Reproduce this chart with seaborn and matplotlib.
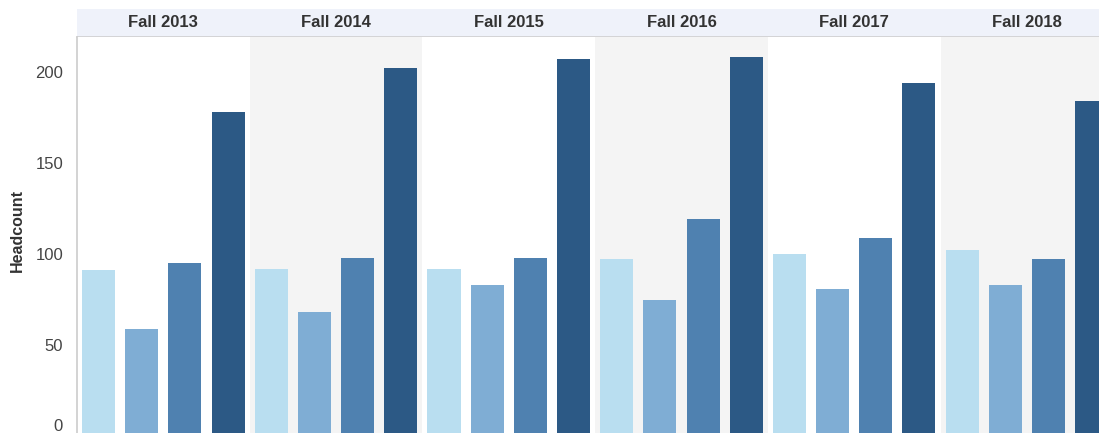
import seaborn as sns
import matplotlib.pyplot as plt
import matplotlib.patches as mpatches
import matplotlib.transforms as mtransforms
import pandas as pd

# Datos
terms = ['Fall 2013', 'Fall 2014', 'Fall 2015', 'Fall 2016', 'Fall 2017', 'Fall 2018']
levels = ['Freshman', 'Sophomore', 'Junior', 'Senior']
freshman = [91, 92, 92, 97, 100, 102]
sophomore = [59, 68, 83, 75, 81, 83]
junior = [95, 98, 98, 119, 109, 97]
senior = [178, 202, 207, 208, 194, 184]

colors = ['#b9def0', '#7fadd4', '#4f81b0', '#2c5985']

rows = []
for i, term in enumerate(terms):
    for lvl, vals in zip(levels, [freshman, sophomore, junior, senior]):
        rows.append({'Term': term, 'Level': lvl, 'Headcount': vals[i]})
df = pd.DataFrame(rows)

sns.set_style("white")
plt.rcParams['font.family'] = ['Liberation Sans', 'DejaVu Sans']

W, H = 1099, 433
fig = plt.figure(figsize=(W / 100, H / 100), dpi=100)

left = 77
panel_w = 172.7
top = 37
zero_y = 436
ymax = (zero_y - top) / 1.82

# Banda de encabezado
fig.patches.append(mpatches.Rectangle((left / W, 1 - top / H), 1 - left / W, 28 / H,
                                      transform=fig.transFigure, facecolor='#eff2fa',
                                      edgecolor='none', zorder=-5))
fig.lines.append(plt.Line2D([left / W, 1], [1 - top / H, 1 - top / H],
                            transform=fig.transFigure, color='#cfcfcf', lw=1.2, zorder=-4))

for i, term in enumerate(terms):
    ax = fig.add_axes([(left + i * panel_w) / W, 1 - zero_y / H,
                       panel_w / W, (zero_y - top) / H])
    sub = df[df['Term'] == term]
    sns.barplot(data=sub, x='Level', y='Headcount', hue='Level', order=levels,
                hue_order=levels, palette=colors, width=0.765, saturation=1,
                linewidth=0, legend=False, ax=ax)
    ax.set_xlim(-0.5, 3.5)
    ax.set_ylim(0, ymax)
    ax.set_facecolor('#f4f4f4' if i % 2 else 'white')
    for s in ax.spines.values():
        s.set_visible(False)
    ax.set_xticks([])
    ax.set_xlabel('')
    ax.text(0.5, 1 + 14 / (zero_y - top), term, transform=ax.transAxes,
            ha='center', va='center', fontsize=12, fontweight='bold',
            color='#333333', zorder=10)
    if i == 0:
        ax.spines['left'].set_visible(True)
        ax.spines['left'].set_color('#cccccc')
        ax.spines['left'].set_linewidth(1.2)
        ax.set_yticks([0, 50, 100, 150, 200])
        ax.tick_params(axis='y', length=0, pad=10, labelsize=12, labelcolor='#444444')
        # la etiqueta "0" se sube para que quede dentro de la imagen
        lab0 = ax.get_yticklabels()[0]
        lab0.set_transform(lab0.get_transform() +
                           mtransforms.ScaledTranslation(0, 8 / 72, fig.dpi_scale_trans))
        ax.set_ylabel('Headcount', fontsize=11.5, fontweight='bold', color='#333333')
        ax.yaxis.set_label_coords(-0.30, 0.515)
    else:
        ax.set_yticks([])
        ax.set_ylabel('')

fig.savefig('out.png', dpi=100)
